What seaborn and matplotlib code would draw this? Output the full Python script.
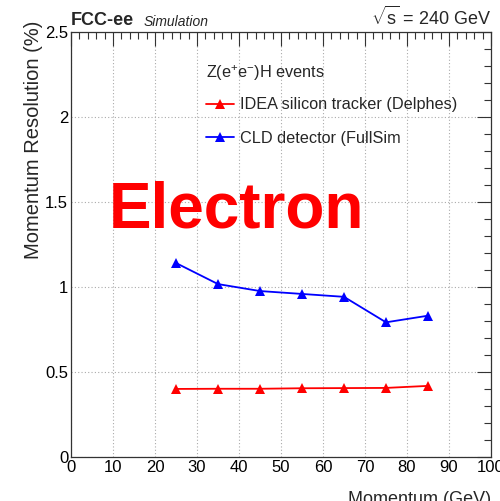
import matplotlib
matplotlib.use("Agg")
import matplotlib.pyplot as plt
from matplotlib.ticker import MultipleLocator
import seaborn as sns
import pandas as pd

# Momentum points (GeV) and resolution (%) for each detector setup
momentum = [25, 35, 45, 55, 65, 75, 85]
idea_resolution = [0.400, 0.401, 0.401, 0.404, 0.405, 0.406, 0.418]
cld_resolution = [1.141, 1.017, 0.976, 0.959, 0.942, 0.792, 0.831]
series_names = ["IDEA silicon tracker (Delphes)", "CLD detector (FullSim"]
series_colors = ["#ff0000", "#0000ff"]

sns.set_theme(style="white")
plt.rcParams["font.family"] = ["Liberation Sans", "DejaVu Sans"]
plt.rcParams["mathtext.fontset"] = "custom"
plt.rcParams["mathtext.rm"] = "Liberation Sans"

df = pd.DataFrame({
    "Momentum": momentum * 2,
    "Resolution": idea_resolution + cld_resolution,
    "Detector": [series_names[0]] * len(momentum) + [series_names[1]] * len(momentum),
})

fig = plt.figure(figsize=(5.0, 5.01), dpi=100)
ax = fig.add_axes([0.142, 0.088, 0.840, 0.848])

sns.lineplot(data=df, x="Momentum", y="Resolution", hue="Detector",
             palette=dict(zip(series_names, series_colors)),
             marker="^", markersize=7, markeredgewidth=0, linewidth=1.3,
             ax=ax)

ax.set_xlim(0, 100)
ax.set_ylim(0, 2.5)
ax.xaxis.set_major_locator(MultipleLocator(10))
ax.xaxis.set_minor_locator(MultipleLocator(2))
ax.yaxis.set_major_locator(MultipleLocator(0.5))
ax.yaxis.set_minor_locator(MultipleLocator(0.1))
ax.set_yticks([0, 0.5, 1, 1.5, 2, 2.5])
ax.set_yticklabels(["0", "0.5", "1", "1.5", "2", "2.5"])
ax.tick_params(which="both", direction="in", top=True, right=True,
               labelsize=12, colors="#333333", labelcolor="black", pad=2)
ax.tick_params(which="major", length=10, width=0.8)
ax.tick_params(which="minor", length=5, width=0.8)
ax.grid(True, which="major", linestyle=(0, (1, 2)), color="#aaaaaa", linewidth=0.8)
for s in ax.spines.values():
    s.set_color("#333333")
    s.set_linewidth(0.9)

ax.set_xlabel("Momentum (GeV)", fontsize=13, loc="right", labelpad=12)
ax.set_ylabel("Momentum Resolution (%)", fontsize=14.5, loc="top")
ax.yaxis.set_label_coords(-0.067, 1.028)

leg = ax.legend(title="Z(e$^{+}$e$^{-}$)H events", loc="upper left",
                bbox_to_anchor=(0.322, 0.935), frameon=False, fontsize=11.7,
                title_fontsize=11.7, handlelength=1.7, handletextpad=0.4,
                labelspacing=1.12, alignment="left", borderpad=0,
                borderaxespad=0)
leg.get_title().set_position((0, -4))

ax.text(0.0, 1.008, "FCC-ee", transform=ax.transAxes, fontsize=13,
        fontweight="bold", ha="left", va="bottom")
ax.text(0.174, 1.008, "Simulation", transform=ax.transAxes, fontsize=10,
        style="italic", ha="left", va="bottom")
ax.text(1.0, 1.008, r"$\sqrt{\mathrm{s}}$ = 240 GeV", transform=ax.transAxes,
        fontsize=13, ha="right", va="bottom")

ax.text(0.395, 0.58, "Electron", transform=ax.transAxes, fontsize=46,
        fontweight="bold", color="#ff0000", ha="center", va="center")

fig.savefig("out.png", dpi=100)
